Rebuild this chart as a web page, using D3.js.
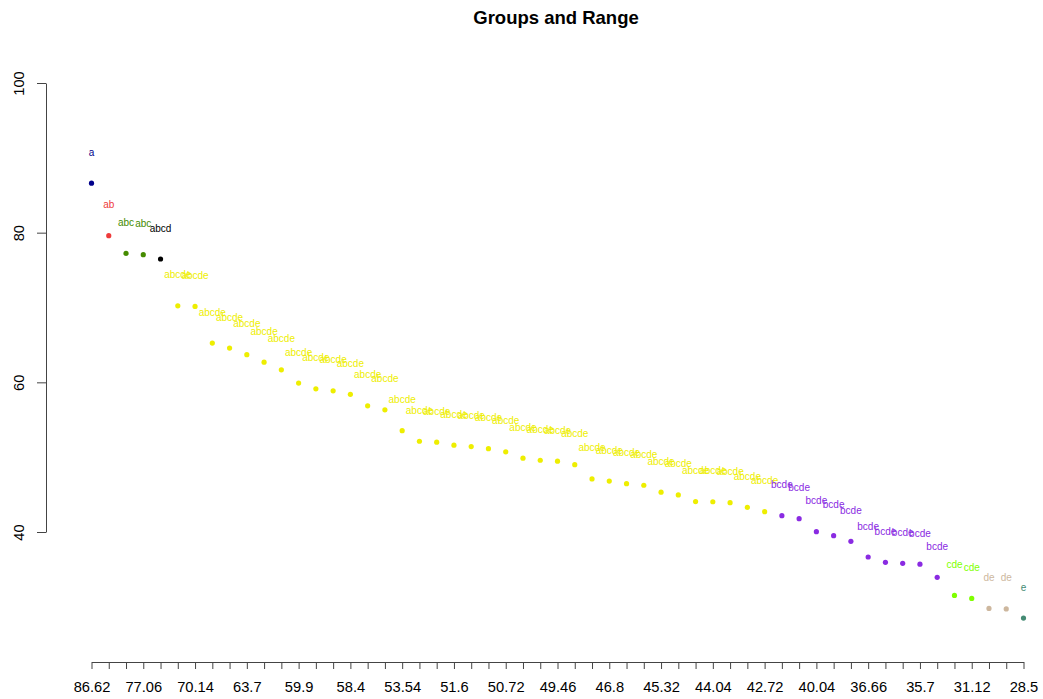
<!DOCTYPE html>
<html>
<head>
<meta charset="utf-8">
<script src="https://cdn.jsdelivr.net/npm/d3@7"></script>
<style>
  html, body { margin: 0; padding: 0; background: #ffffff; }
  svg { display: block; font-family: "Liberation Sans", Arial, sans-serif; }
</style>
</head>
<body>
<svg id="chart" width="1043" height="699"></svg>
<script>
// Treatment means, sorted from highest to lowest
const means = [
  86.62, 79.60, 77.23, 77.06, 76.48, 70.22, 70.14, 65.24, 64.58, 63.70,
  62.70, 61.67, 59.90, 59.13, 58.86, 58.40, 56.86, 56.32, 53.54, 52.13,
  52.00, 51.60, 51.41, 51.14, 50.72, 49.86, 49.59, 49.46, 49.00, 47.09,
  46.80, 46.46, 46.25, 45.32, 44.95, 44.06, 44.04, 43.92, 43.30, 42.72,
  42.18, 41.78, 40.04, 39.51, 38.76, 36.66, 35.95, 35.81, 35.70, 33.94,
  31.53, 31.12, 29.79, 29.72, 28.50
];

// Letter groups from the mean comparison, one per treatment
const groups = [
  "a", "ab", "abc", "abc", "abcd",
  "abcde", "abcde", "abcde", "abcde", "abcde", "abcde", "abcde", "abcde", "abcde", "abcde",
  "abcde", "abcde", "abcde", "abcde", "abcde", "abcde", "abcde", "abcde", "abcde", "abcde",
  "abcde", "abcde", "abcde", "abcde", "abcde", "abcde", "abcde", "abcde", "abcde", "abcde",
  "abcde", "abcde", "abcde", "abcde", "abcde",
  "bcde", "bcde", "bcde", "bcde", "bcde", "bcde", "bcde", "bcde", "bcde", "bcde",
  "cde", "cde", "de", "de", "e"
];

// Distinct group names and their colours
const groupNames = ["a", "ab", "abc", "abcd", "abcde", "bcde", "cde", "de", "e"];
const groupColors = ["#00008B", "#EE3B3B", "#458B00", "#000000", "#EEEE00", "#8A2BE2", "#7FFF00", "#CDB79E", "#458B74"];

// Y axis tick values
const yTicks = [40, 60, 80, 100];

// Tick labels along the x axis: the means themselves
const xTickLabels = means.map(v => String(v));

const svg = d3.select("#chart");

const x = d3.scaleLinear().domain([0, means.length - 1]).range([91.5, 1023.5]);
const y = d3.scaleLinear().domain([40, 100]).range([532, 83]);
const color = d3.scaleOrdinal().domain(groupNames).range(groupColors);

// Title
svg.append("text")
  .attr("x", 556)
  .attr("y", 17)
  .attr("text-anchor", "middle")
  .attr("dominant-baseline", "central")
  .style("font-weight", "bold")
  .style("font-size", "18.5px")
  .text("Groups and Range");

// X axis: a tick for every treatment, labels on every third
const xAxis = d3.axisBottom(x)
  .tickValues(d3.range(means.length))
  .tickSize(7)
  .tickSizeOuter(0)
  .tickPadding(13)
  .tickFormat(i => (i % 3 === 0 ? xTickLabels[i] : ""));

const gx = svg.append("g")
  .attr("transform", "translate(0,662)")
  .call(xAxis);
gx.selectAll("text").style("font-size", "14.7px").attr("fill", "#000");

// Y axis with rotated labels
const yAxis = d3.axisLeft(y)
  .tickValues(yTicks)
  .tickSize(9)
  .tickSizeOuter(0)
  .tickFormat(d3.format("d"));

const gy = svg.append("g")
  .attr("transform", "translate(46,0)")
  .call(yAxis);
gy.selectAll(".tick text")
  .style("font-size", "14.7px")
  .attr("fill", "#000")
  .attr("x", null)
  .attr("dy", null)
  .attr("text-anchor", "middle")
  .attr("dominant-baseline", "central")
  .attr("transform", "translate(-27,0) rotate(-90)");

[gx, gy].forEach(g => {
  g.select(".domain").attr("stroke", "#444").attr("stroke-width", 1);
  g.selectAll(".tick line").attr("stroke", "#444");
});

// Points
svg.append("g")
  .selectAll("circle")
  .data(means)
  .join("circle")
  .attr("cx", (d, i) => x(i))
  .attr("cy", d => y(d))
  .attr("r", 2.6)
  .attr("fill", (d, i) => color(groups[i]));

// Group letters above each point
const letterLift = 4.14;
svg.append("g")
  .selectAll("text")
  .data(means)
  .join("text")
  .attr("x", (d, i) => x(i))
  .attr("y", d => y(d + letterLift))
  .attr("text-anchor", "middle")
  .attr("dominant-baseline", "central")
  .style("font-size", "10px")
  .attr("fill", (d, i) => color(groups[i]))
  .text((d, i) => groups[i]);
</script>
</body>
</html>
